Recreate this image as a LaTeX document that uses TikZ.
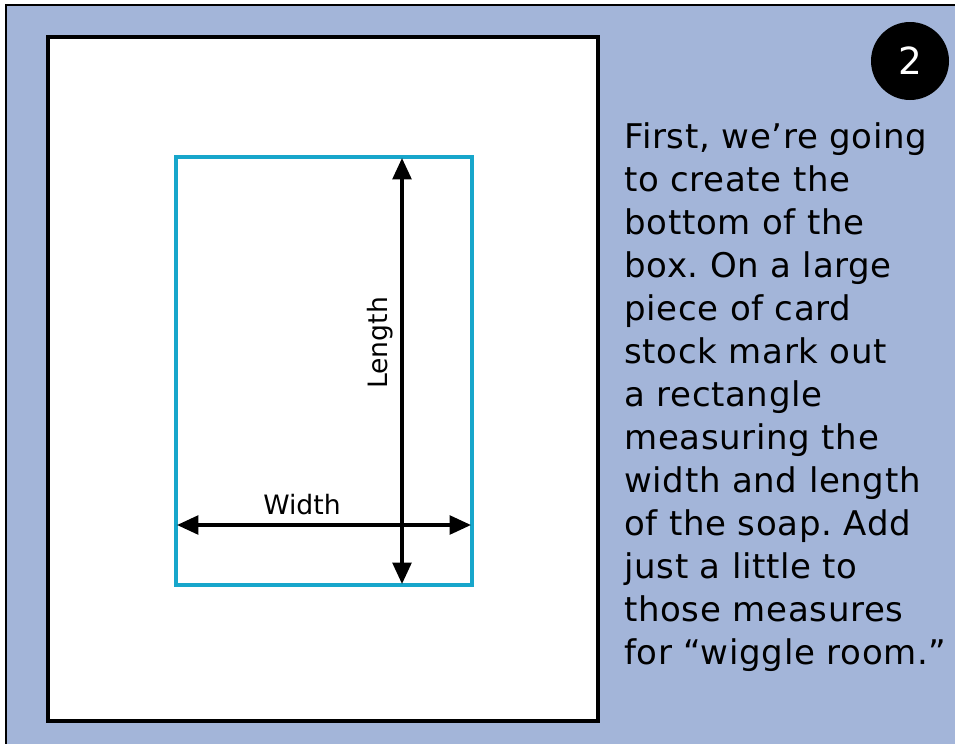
\documentclass[tikz,border=0pt]{standalone}
\usepackage{fontspec}
\setmainfont{DejaVu Sans}
\newfontfamily\notefont[LetterSpace=2]{DejaVu Sans}
\usetikzlibrary{arrows.meta}

\definecolor{pagebg}{HTML}{A3B5D9}
\definecolor{soapcyan}{HTML}{17A6CB}

\frenchspacing
\begin{document}
\begin{tikzpicture}[x=0.75pt, y=-0.75pt, >={Triangle[length=16pt, width=14pt]}]

    % =================================================================
    % 1. KHUNG VA NEN
    % =================================================================
    \useasboundingbox (0,0) rectangle (955,743);
    \clip (0,0) rectangle (955,743);

    \coordinate (FrameNW) at (6, 5);
    \coordinate (FrameSE) at (970, 760);
    \coordinate (PanelNW) at (48, 37);
    \coordinate (PanelSE) at (598, 721);

    \fill[white] (0,0) rectangle (955,743);
    \draw[line width=1.5pt, fill=pagebg] (FrameNW) rectangle (FrameSE);
    \draw[line width=2.6pt, fill=white] (PanelNW) rectangle (PanelSE);

    % =================================================================
    % 2. HINH CHU NHAT CUA BANH XA PHONG
    % =================================================================
    \coordinate (SoapNW) at (176, 157);
    \coordinate (SoapSE) at (472, 585);
    \draw[soapcyan, line width=2.3pt] (SoapNW) rectangle (SoapSE);

    % Diem dau mui ten
    \coordinate (LenTop) at (402, 158);
    \coordinate (LenBot) at (402, 584);
    \coordinate (WidLeft) at (177, 525);
    \coordinate (WidRight) at (471, 525);

    \draw[<->, line width=2.6pt] (LenTop) -- (LenBot);
    \draw[<->, line width=2.6pt] (WidLeft) -- (WidRight);

    % =================================================================
    % 3. NHAN
    % =================================================================
    \node[font=\fontsize{20}{24}\selectfont, rotate=90] (lengthlabel) at (380, 343) {Length};
    \node[font=\fontsize{20}{24}\selectfont] (widthlabel) at (302, 505) {Width};

    % So buoc
    \node[circle, fill=black, minimum size=58.5pt, inner sep=0pt, text=white,
          font=\fontsize{28}{32}\selectfont] (stepnum) at (910, 61) {2};

    % Loi huong dan
    \node[anchor=north west, align=left, inner sep=0pt,
          font=\notefont\fontsize{25.5}{32.25}\selectfont] (howto) at (624, 122)
        {First, we’re going\\
         to create the\\
         bottom of the\\
         box. On a large\\
         piece of card\\
         stock mark out\\
         a rectangle\\
         measuring the\\
         width and length\\
         of the soap. Add\\
         just a little to\\
         those measures\\
         for “wiggle room.”};

\end{tikzpicture}
\end{document}
